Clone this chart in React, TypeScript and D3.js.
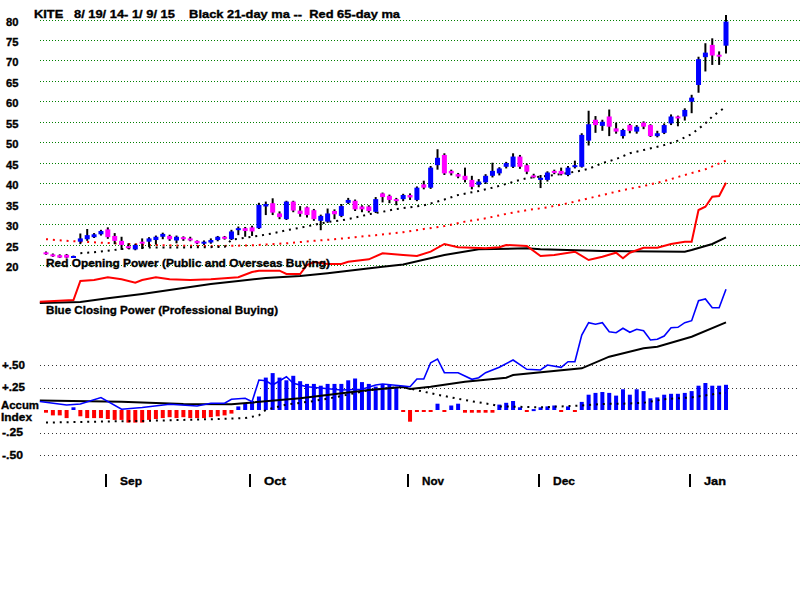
import React, { useEffect, useRef } from 'react';
import * as d3 from 'd3';

// daily candles 8/19/14 .. 1/9/15 (100 sessions)
const opens = [
  23.1, 22.6, 22.4, 22.5, 21.9, 25.7, 26.3, 26.8, 27.5, 28.7,
  27.1, 25.9, 24.6, 23.8, 25.7, 25.7, 26.1, 26.9, 27.1, 26.0,
  26.8, 26.5, 25.9, 25.2, 25.5, 26.1, 26.9, 26.3, 28.6, 29.0,
  29.2, 29.0, 34.3, 35.1, 32.6, 31.2, 35.5, 33.3, 34.1, 33.4,
  30.8, 30.6, 33.2, 32.0, 35.2, 35.7, 34.3, 34.3, 33.0, 37.5,
  36.9, 36.1, 36.1, 37.1, 35.9, 39.7, 38.9, 44.4, 46.9, 43.0,
  42.2, 41.8, 40.8, 39.6, 40.2, 41.8, 42.4, 44.0, 44.0, 46.5,
  44.4, 41.9, 40.8, 40.8, 43.0, 43.0, 42.0, 44.0, 44.0, 50.4,
  55.5, 54.0, 56.3, 53.4, 51.5, 54.2, 52.6, 54.8, 54.2, 51.5,
  52.3, 54.6, 56.3, 56.3, 59.9, 64.0, 70.8, 73.8, 71.4, 73.6,
];
const highs = [
  23.3, 22.8, 22.6, 22.7, 22.3, 27.7, 28.8, 27.8, 28.6, 29.2,
  27.8, 26.9, 25.3, 25.2, 26.5, 26.8, 27.2, 27.9, 27.4, 27.2,
  27.0, 26.9, 26.0, 26.0, 26.5, 27.1, 27.1, 28.6, 29.4, 29.3,
  29.6, 35.2, 35.5, 36.3, 33.1, 35.7, 35.7, 34.4, 34.3, 33.7,
  32.3, 33.8, 33.6, 34.9, 36.4, 36.0, 34.6, 34.6, 36.6, 37.7,
  37.2, 36.4, 37.4, 37.5, 39.2, 40.6, 44.2, 48.3, 47.3, 43.3,
  42.5, 43.8, 41.8, 41.0, 42.2, 45.0, 43.9, 45.2, 47.3, 46.9,
  44.8, 42.3, 42.0, 42.9, 43.3, 43.8, 44.2, 45.5, 52.2, 57.7,
  56.4, 55.5, 58.0, 54.8, 53.3, 54.5, 54.2, 55.1, 54.4, 52.8,
  54.6, 56.8, 56.5, 58.3, 61.6, 70.9, 74.2, 75.4, 72.2, 81.1,
];
const lows = [
  22.5, 22.0, 21.7, 21.6, 21.8, 25.1, 25.9, 26.6, 27.2, 26.4,
  25.1, 23.7, 23.9, 23.6, 23.9, 24.4, 25.0, 26.3, 25.9, 25.3,
  25.9, 25.8, 25.1, 24.9, 25.2, 25.8, 26.2, 26.1, 27.3, 26.9,
  27.1, 28.8, 32.2, 32.2, 31.2, 31.0, 32.9, 31.8, 31.6, 30.8,
  28.5, 30.3, 31.2, 31.7, 34.9, 33.2, 32.9, 32.8, 32.7, 35.3,
  35.1, 34.6, 35.6, 35.9, 35.6, 38.5, 38.6, 43.3, 42.0, 41.9,
  41.2, 40.2, 38.5, 39.0, 39.8, 41.4, 41.9, 43.6, 43.7, 43.5,
  42.2, 41.2, 38.8, 40.4, 42.2, 41.9, 41.7, 43.6, 43.8, 49.2,
  52.3, 52.8, 51.5, 52.1, 50.9, 52.2, 52.1, 53.2, 51.3, 51.2,
  52.0, 54.2, 53.9, 55.3, 57.1, 62.1, 67.3, 68.9, 68.9, 71.7,
];
const closes = [
  22.7, 22.1, 21.8, 21.8, 22.2, 26.5, 27.3, 27.5, 28.3, 26.8,
  25.9, 24.9, 24.3, 24.9, 25.5, 26.5, 26.9, 27.6, 26.3, 26.9,
  26.4, 26.0, 25.3, 25.7, 26.1, 26.9, 26.4, 28.2, 29.0, 28.3,
  28.2, 34.7, 34.9, 32.8, 31.7, 35.5, 33.3, 32.5, 32.2, 31.2,
  32.0, 32.6, 32.4, 34.4, 35.9, 33.6, 33.6, 33.2, 36.1, 36.6,
  35.9, 35.7, 37.1, 36.5, 38.9, 38.9, 43.8, 46.2, 42.4, 42.4,
  41.6, 40.8, 39.1, 40.4, 41.8, 43.0, 43.6, 44.9, 46.5, 44.0,
  42.8, 41.7, 41.3, 42.6, 42.7, 42.2, 43.8, 44.4, 51.8, 54.4,
  54.2, 55.0, 53.8, 52.6, 53.0, 52.8, 53.8, 53.8, 51.5, 52.2,
  54.2, 56.3, 56.1, 57.9, 60.9, 70.3, 71.9, 71.2, 71.2, 79.5,
];

// Tiger accumulation index, one bar per session
const accum = [
  -0.03, -0.06, -0.06, -0.09, 0.03, -0.07, -0.09, -0.09, -0.09, -0.10,
  -0.11, -0.11, -0.14, -0.14, -0.14, -0.11, -0.10, -0.09, -0.08, -0.09,
  -0.08, -0.09, -0.09, -0.09, -0.08, -0.07, -0.06, -0.04, 0.04, 0.07,
  0.10, 0.15, 0.36, 0.41, 0.36, 0.33, 0.38, 0.32, 0.29, 0.29,
  0.27, 0.29, 0.29, 0.29, 0.33, 0.35, 0.31, 0.29, 0.26, 0.28,
  0.28, 0.26, -0.02, -0.13, -0.01, -0.01, -0.01, 0.07, -0.01, 0.05,
  0.07, -0.03, -0.03, -0.03, -0.03, -0.03, 0.06, 0.08, 0.10, 0.03,
  -0.01, 0.01, 0.03, 0.04, 0.05, -0.01, 0.04, -0.01, 0.09, 0.17,
  0.19, 0.20, 0.19, 0.16, 0.23, 0.17, 0.23, 0.21, 0.13, 0.14,
  0.17, 0.18, 0.18, 0.19, 0.21, 0.27, 0.30, 0.27, 0.27, 0.28,
];

// moving averages: [session, value]
const ma21: [number, number][] = [
  [5, 22.9], [7, 23.1], [9, 23.5], [11, 23.9], [13, 24.2], [15, 24.3], [20, 24.3], [26, 24.4],
  [27, 26.2], [28, 26.4], [30, 26.9], [33, 27.7], [35, 28.5], [37, 29.1], [39, 29.8], [41, 30.5],
  [43, 30.9], [45, 31.6], [47, 32.4], [49, 33.0], [51, 33.7], [53, 34.1], [55, 34.6], [57, 35.5],
  [58, 36.0], [60, 37.1], [63, 38.1], [65, 38.9], [67, 39.8], [69, 40.8], [70, 41.2], [72, 41.6],
  [74, 42.0], [76, 42.5], [78, 43.1], [79, 43.5], [81, 44.9], [83, 45.9], [85, 47.3], [87, 48.1],
  [90, 49.3], [92, 50.4], [94, 52.0], [96, 54.6], [97, 56.3], [98, 57.5], [99, 58.7],
];
const ma65: [number, number][] = [
  [0, 26.3], [4, 25.8], [10, 25.3], [15, 24.9], [24, 24.6], [30, 24.8], [35, 25.3], [39, 25.9],
  [42, 26.3], [45, 26.8], [48, 27.3], [52, 28.0], [55, 28.8], [58, 29.5], [61, 30.6], [64, 31.4],
  [67, 32.5], [70, 33.4], [73, 34.1], [76, 35.1], [78, 35.9], [81, 37.1], [84, 38.3], [87, 39.3],
  [90, 40.5], [93, 42.0], [96, 43.4], [99, 45.5],
];

// opening power (red) and its average (black), arbitrary units
const openPower: [number, number][] = [
  [-0.9, 3.3], [4, 5], [5, 24], [7, 25], [9, 27.7], [11, 25.7], [13, 22.3], [14, 25], [16, 27.7],
  [18, 25.7], [21, 25], [24, 25.7], [28, 27.7], [30, 33], [31, 34.3], [34, 34.3], [35, 31],
  [37, 31], [38, 40], [39, 43], [41, 41], [43, 41], [44, 43.3], [47, 45.7], [49, 51.7], [52, 50],
  [54, 49], [56, 53.3], [58, 61], [60, 57.7], [64, 56.7], [66, 57.7], [67, 60], [70, 59], [72, 49],
  [74, 50], [77, 53.3], [79, 45], [81, 48.3], [83, 52.3], [84, 46.7], [85, 52.3], [87, 57.3],
  [89, 57.3], [91, 61], [93, 63.3], [94, 63.3], [95, 95], [96, 98.3], [97, 108.3], [98, 109], [99, 122.3],
];
const openPowerMa: [number, number][] = [
  [-0.9, 2], [5, 3], [9, 6.7], [14, 11], [19, 16], [24, 21], [28, 24], [32, 27], [37, 29], [41, 31.7],
  [49, 38.3], [52, 40.5], [58, 50], [63, 55.7], [70, 56.7], [72, 55.7], [81, 54], [93, 53.3],
  [94, 55], [97, 61], [99, 67.7],
];

// closing power (blue) and its average (black), arbitrary units
const closePower: [number, number][] = [
  [-0.9, 18.5], [3, 15], [5, 16], [8, 22.5], [11, 10.7], [14, 12.5], [18, 15.7], [22, 14], [24, 16.7],
  [26, 16.7], [27, 20.7], [29, 21.7], [30, 18.3], [31, 40], [32, 39.3], [33, 35], [35, 43.3],
  [36, 36.7], [38, 33.3], [43, 30], [46, 30.7], [48, 35], [49, 36], [52, 34], [53, 33.3], [54, 41],
  [55, 41], [56, 57.3], [57, 61], [58, 47.3], [60, 47.3], [62, 40.7], [63, 42.3], [64, 47.3],
  [66, 52.7], [68, 60], [70, 50.7], [72, 50], [73, 55], [75, 52.7], [76, 58.3], [77, 58.3], [78, 85],
  [79, 97.3], [80, 95.7], [81, 97.3], [82, 88.3], [83, 87.3], [84, 91.7], [85, 87.7], [86, 90.7],
  [87, 89.3], [88, 80], [89, 80.7], [90, 84], [91, 92.3], [92, 92.7], [93, 97.3], [94, 99.3],
  [95, 119.3], [96, 121], [97, 112.3], [98, 112.3], [99, 130.7],
];
const closePowerMa: [number, number][] = [
  [-0.9, 19.5], [11, 18.3], [20, 16], [27, 15.7], [37, 21.7], [47, 30], [52, 33], [53, 31], [56, 33.3],
  [61, 38.3], [67, 42.3], [68, 45], [78, 51.7], [82, 63.3], [87, 71.7], [89, 73.3], [94, 83.3], [99, 97.7],
];

// accumulation index average (dotted black)
const accumMa: [number, number][] = [
  [0, -0.14], [7, -0.13], [15, -0.12], [25, -0.1], [29, -0.09], [31, -0.06], [32, 0], [35, 0.06],
  [39, 0.1], [42, 0.14], [47, 0.22], [52, 0.26], [54, 0.22], [57, 0.17], [61, 0.11], [65, 0.06],
  [66, 0.04], [72, 0.03], [78, 0.05], [81, 0.067], [84, 0.07], [87, 0.08], [90, 0.12], [94, 0.14],
  [98, 0.185], [99, 0.19],
];

const priceTicks = [80, 75, 70, 65, 60, 55, 50, 45, 40, 35, 30, 25, 20];
const accumTicks = [0.5, 0.25, -0.25, -0.5];
const accumTickLabels = ['+.50', '+.25', '-.25', '-.50'];
const months = ['Sep', 'Oct', 'Nov', 'Dec', 'Jan'];
const monthStarts = [9, 30, 53, 72, 94];

const title = 'KITE   8/ 19/ 14- 1/ 9/ 15    Black 21-day ma --  Red 65-day ma';
const FONT = '"Liberation Sans", Arial, sans-serif';

export default function App() {
  const svgRef = useRef<SVGSVGElement | null>(null);

  useEffect(() => {
    if (!svgRef.current) return;
    const svg = d3.select(svgRef.current);
    svg.selectAll('*').remove();

    const width = 800;
    const n = closes.length;
    const x = d3.scaleLinear().domain([0, n - 1]).range([46, 726]);
    const y = d3.scaleLinear().domain([20, 80]).range([265, 19.5]);
    const yAcc = d3.scaleLinear().domain([-0.5, 0.5]).range([455, 365]);
    const yOpen = d3.scaleLinear().domain([0, 125]).range([305, 180]);
    const yClose = d3.scaleLinear().domain([0, 140]).range([420, 280]);

    svg.append('rect').attr('width', 800).attr('height', 600).attr('fill', '#fff');

    // bold pixel-font look: fill plus a thin stroke
    const txt = (s: string, tx: number, ty: number, len?: number) => {
      const t = svg.append('text')
        .attr('x', tx).attr('y', ty)
        .attr('font-family', FONT).attr('font-weight', 'bold').attr('font-size', 11.5)
        .style('white-space', 'pre')
        .attr('fill', '#000').attr('stroke', '#000').attr('stroke-width', 0.35)
        .text(s);
      if (len) t.attr('textLength', len).attr('lengthAdjust', 'spacingAndGlyphs');
      return t;
    };

    // price grid
    svg.append('g').selectAll('line').data(priceTicks).join('line')
      .attr('x1', 40).attr('x2', width)
      .attr('y1', d => Math.round(y(d)) + 0.5).attr('y2', d => Math.round(y(d)) + 0.5)
      .attr('stroke', '#008000').attr('stroke-dasharray', '1,2');
    priceTicks.forEach(d => txt(String(d), 6, y(d) + 6, 12.5));

    // accum grid
    svg.append('g').selectAll('line').data(accumTicks).join('line')
      .attr('x1', 40).attr('x2', width)
      .attr('y1', d => Math.round(yAcc(d)) + 0.5).attr('y2', d => Math.round(yAcc(d)) + 0.5)
      .attr('stroke', '#333').attr('stroke-dasharray', '1,3');
    accumTicks.forEach((d, i) => txt(accumTickLabels[i], 2, yAcc(d) + 3.5, d > 0 ? 23 : 21));
    txt('Accum', 1, 409, 38);
    txt('Index', 1, 421, 31);

    // moving averages, drawn as dotted lines
    const lineXY = d3.line<[number, number]>().x(d => x(d[0])).y(d => y(d[1]));
    svg.append('path').attr('d', lineXY(ma65)).attr('fill', 'none')
      .attr('stroke', '#ff0000').attr('stroke-width', 2).attr('stroke-dasharray', '2,4.87');
    svg.append('path').attr('d', lineXY(ma21)).attr('fill', 'none')
      .attr('stroke', '#000').attr('stroke-width', 2).attr('stroke-dasharray', '2,4.87');

    // candles
    const idx = d3.range(n);
    svg.append('g').selectAll('line').data(idx).join('line')
      .attr('x1', i => x(i)).attr('x2', i => x(i))
      .attr('y1', i => y(highs[i])).attr('y2', i => y(lows[i]))
      .attr('stroke', '#000').attr('stroke-width', 2);
    svg.append('g').selectAll('rect').data(idx).join('rect')
      .attr('x', i => x(i) - 2.5).attr('width', 5)
      .attr('y', i => y(Math.max(opens[i], closes[i])))
      .attr('height', i => Math.max(2, Math.abs(y(opens[i]) - y(closes[i]))))
      .attr('fill', i => (closes[i] >= opens[i] ? '#0000ff' : '#ff00ff'));

    // opening power
    const lineOpen = d3.line<[number, number]>().x(d => x(d[0])).y(d => yOpen(d[1]));
    svg.append('path').attr('d', lineOpen(openPowerMa)).attr('fill', 'none')
      .attr('stroke', '#000').attr('stroke-width', 2);
    svg.append('path').attr('d', lineOpen(openPower)).attr('fill', 'none')
      .attr('stroke', '#ff0000').attr('stroke-width', 2);

    txt(title, 34, 18, 366);
    txt('Red Opening Power (Public and Overseas Buying)', 46, 267, 284);
    txt('Blue Closing Power (Professional Buying)', 46, 314, 232);

    // accumulation bars
    svg.append('g').selectAll('rect').data(idx).join('rect')
      .attr('x', i => x(i) - 2).attr('width', 4)
      .attr('y', i => Math.min(yAcc(0), yAcc(accum[i])))
      .attr('height', i => Math.max(2, Math.abs(yAcc(accum[i]) - yAcc(0))))
      .attr('fill', i => (accum[i] >= 0 ? '#0000ff' : '#ff0000'));

    const lineAcc = d3.line<[number, number]>().x(d => x(d[0])).y(d => yAcc(d[1]));
    svg.append('path').attr('d', lineAcc(accumMa)).attr('fill', 'none')
      .attr('stroke', '#000').attr('stroke-width', 2).attr('stroke-dasharray', '2,4.87');

    // closing power
    const lineClose = d3.line<[number, number]>().x(d => x(d[0])).y(d => yClose(d[1]));
    svg.append('path').attr('d', lineClose(closePowerMa)).attr('fill', 'none')
      .attr('stroke', '#000').attr('stroke-width', 2);
    svg.append('path').attr('d', lineClose(closePower)).attr('fill', 'none')
      .attr('stroke', '#0000ff').attr('stroke-width', 1.6);

    // month ticks
    months.forEach((m, i) => {
      const mx = Math.round(x(monthStarts[i]) - 2);
      svg.append('line').attr('x1', mx).attr('x2', mx).attr('y1', 474).attr('y2', 487)
        .attr('stroke', '#000').attr('stroke-width', 2);
      txt(m, mx + 14, 485, 22);
    });
  }, []);

  return (
    <svg
      ref={svgRef}
      width={800}
      height={600}
      style={{ position: 'absolute', left: 0, top: 0, display: 'block' }}
    />
  );
}
